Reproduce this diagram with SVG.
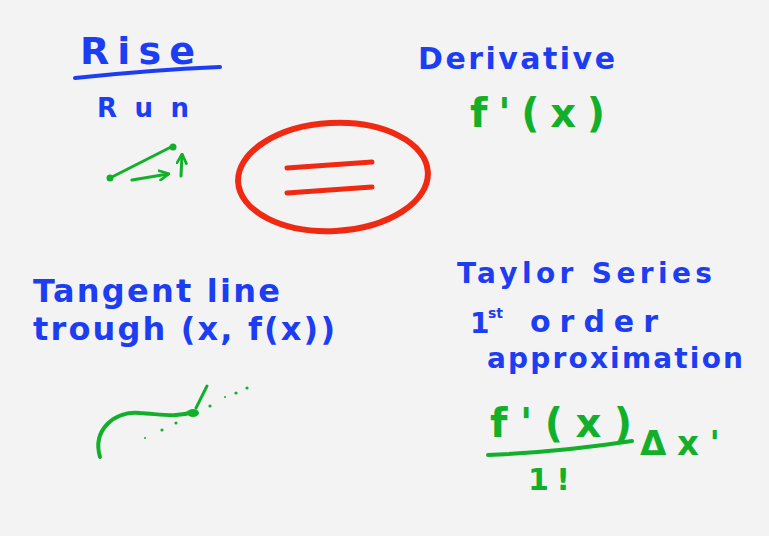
<svg xmlns="http://www.w3.org/2000/svg" width="769" height="536" viewBox="0 0 769 536">
<defs>
<style>
.b{fill:#1d3df2;font-family:"DejaVu Sans","Liberation Sans",sans-serif;font-weight:bold}
.g{fill:#12b02a;font-family:"DejaVu Sans","Liberation Sans",sans-serif;font-weight:bold}
.gs{stroke:#12b02a;fill:none;stroke-linecap:round;stroke-linejoin:round}
.bs{stroke:#1d3df2;fill:none;stroke-linecap:round}
.rs{stroke:#f02a12;fill:none;stroke-linecap:round}
.dot{fill:#12b02a}
</style>
<marker id="ah" viewBox="0 0 10 10" refX="8" refY="5" markerWidth="4" markerHeight="4" orient="auto">
<path d="M1,1 L9,5 L1,9" fill="none" stroke="#12b02a" stroke-width="2.2" stroke-linecap="round"/>
</marker>
</defs>
<rect width="769" height="536" fill="#f3f3f3"/>

<g id="rise-run">
<text class="b" x="80" y="64" font-size="38" textLength="115" lengthAdjust="spacing">Rise</text>
<path class="bs" d="M75,78 Q150,70 220,67" stroke-width="4"/>
<text class="b" x="97" y="117" font-size="26" textLength="92" lengthAdjust="spacing">Run</text>
<path class="gs" d="M110,178 L173,146" stroke-width="3"/>
<circle class="dot" cx="110" cy="178" r="3.5"/>
<circle class="dot" cx="173" cy="147" r="3.5"/>
<path class="gs" d="M132,180 L168,174" stroke-width="3" marker-end="url(#ah)"/>
<path class="gs" d="M181,176 L182,155" stroke-width="3" marker-end="url(#ah)"/>
</g>

<g id="derivative">
<text class="b" x="418" y="69" font-size="30" textLength="197" lengthAdjust="spacing">Derivative</text>
<text class="g" x="470" y="127" font-size="40" textLength="135" lengthAdjust="spacing">f'(x)</text>
</g>

<g id="equals">
<ellipse class="rs" cx="333" cy="177" rx="95" ry="54" stroke-width="6" transform="rotate(-3 333 177)"/>
<path class="rs" d="M287,168 L372,162 M287,193 L372,187" stroke-width="5"/>
</g>

<g id="tangent">
<text class="b" x="33" y="302" font-size="32" textLength="247" lengthAdjust="spacing">Tangent line</text>
<text class="b" x="33" y="340" font-size="32" textLength="302" lengthAdjust="spacing">trough (x, f(x))</text>
<path class="gs" d="M100,457 C92,430 115,410 140,413 C160,414 175,418 193,412" stroke-width="4"/>
<ellipse class="dot" cx="193" cy="413" rx="6" ry="4"/>
<path class="gs" d="M196,408 L207,386" stroke-width="3"/>
<circle class="dot" cx="145" cy="438" r="1"/>
<circle class="dot" cx="162" cy="430" r="1.6"/>
<circle class="dot" cx="176" cy="423" r="1.6"/>
<circle class="dot" cx="210" cy="406" r="1.6"/>
<circle class="dot" cx="225" cy="397" r="1"/>
<circle class="dot" cx="236" cy="393" r="1.6"/>
<circle class="dot" cx="247" cy="388" r="1.6"/>
</g>

<g id="taylor">
<text class="b" x="457" y="283" font-size="28" textLength="255" lengthAdjust="spacing">Taylor Series</text>
<text class="b" x="470" y="333" font-size="28">1</text>
<text class="b" x="488" y="318" font-size="14">st</text>
<text class="b" x="530" y="332" font-size="30" textLength="128" lengthAdjust="spacing">order</text>
<text class="b" x="487" y="368" font-size="28" textLength="256" lengthAdjust="spacing">approximation</text>
<text class="g" x="490" y="437" font-size="40" textLength="142" lengthAdjust="spacing">f'(x)</text>
<path class="gs" d="M488,455 Q560,452 632,441" stroke-width="4"/>
<text class="g" x="528" y="490" font-size="30" textLength="42" lengthAdjust="spacing">1!</text>
<text class="g" x="640" y="455" font-size="34" textLength="80" lengthAdjust="spacing">Δx'</text>
</g>
</svg>
